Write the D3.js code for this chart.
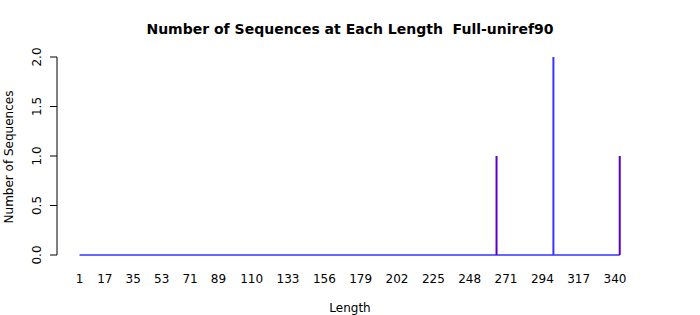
<!DOCTYPE html>
<html>
<head>
<meta charset="utf-8">
<script src="https://cdn.jsdelivr.net/npm/d3@7"></script>
<style>
  body { margin: 0; background: #fff; }
  text { font-family: "DejaVu Sans", sans-serif; fill: #000; white-space: pre; }
</style>
</head>
<body>
<script>
// chart data
var minLength = 1, maxLength = 343;
var spikeLengths = [265, 301, 343];
var spikeCounts = [1, 2, 1];
var spikeColors = ["#5a00c4", "#3535ff", "#5a00c4"];
var xTickLabels = [1, 17, 35, 53, 71, 89, 110, 133, 156, 179, 202, 225, 248, 271, 294, 317, 340];
var yTicks = [0, 0.5, 1, 1.5, 2];

var width = 700, height = 315;
var svg = d3.select("body").append("svg")
    .attr("width", width)
    .attr("height", height);

var x = d3.scaleLinear().domain([1, 340]).range([79.5, 615]);
var y = d3.scaleLinear().domain([0, 2]).range([255, 57]);

// title
svg.append("text")
    .attr("x", 350).attr("y", 34)
    .attr("text-anchor", "middle")
    .attr("font-size", 14).attr("font-weight", "bold")
    .attr("xml:space", "preserve")
    .text("Number of Sequences at Each Length  Full-uniref90");

// y axis
var yAxis = svg.append("g").attr("transform", "translate(57,0)");
yAxis.append("line")
    .attr("x1", 0).attr("x2", 0)
    .attr("y1", y(0)).attr("y2", y(2))
    .attr("stroke", "#000");
yAxis.selectAll(".tick").data(yTicks).enter().append("line")
    .attr("x1", -7).attr("x2", 0)
    .attr("y1", function(d) { return y(d); })
    .attr("y2", function(d) { return y(d); })
    .attr("stroke", "#000");
yAxis.selectAll(".lab").data(yTicks).enter().append("text")
    .attr("transform", function(d) { return "translate(-16," + y(d) + ") rotate(-90)"; })
    .attr("text-anchor", "middle")
    .attr("font-size", 12)
    .text(function(d) { return d.toFixed(1); });

svg.append("text")
    .attr("transform", "translate(13,157) rotate(-90)")
    .attr("text-anchor", "middle")
    .attr("font-size", 12)
    .text("Number of Sequences");

// baseline of zero-height bars
svg.append("line")
    .attr("x1", x(minLength)).attr("x2", x(maxLength))
    .attr("y1", y(0)).attr("y2", y(0))
    .attr("stroke", "#3535ff").attr("stroke-width", 1.5);

// spikes
svg.selectAll(".spike").data(spikeLengths).enter().append("line")
    .attr("x1", function(d) { return x(d); })
    .attr("x2", function(d) { return x(d); })
    .attr("y1", y(0))
    .attr("y2", function(d, i) { return y(spikeCounts[i]); })
    .attr("stroke", function(d, i) { return spikeColors[i]; })
    .attr("stroke-width", 2);

// x tick labels
svg.selectAll(".xlab").data(xTickLabels).enter().append("text")
    .attr("x", function(d) { return x(d); })
    .attr("y", 283)
    .attr("text-anchor", "middle")
    .attr("font-size", 12)
    .text(function(d) { return d; });

svg.append("text")
    .attr("x", 350).attr("y", 312)
    .attr("text-anchor", "middle")
    .attr("font-size", 12)
    .text("Length");
</script>
</body>
</html>
